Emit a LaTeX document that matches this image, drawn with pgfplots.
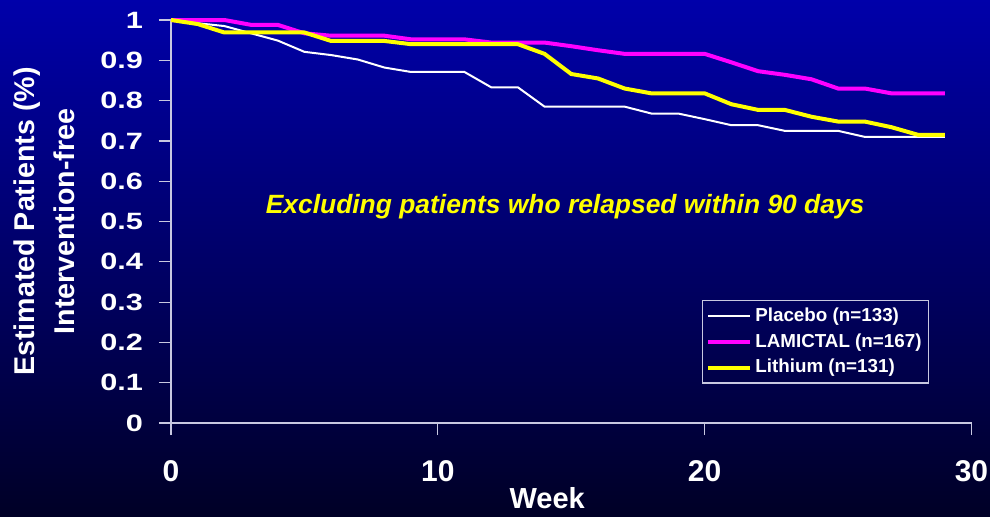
\documentclass[border=0pt]{standalone}
\usepackage{fontspec}
\setmainfont{Liberation Sans}
\newfontfamily\widefont[FakeStretch=1.3]{Liberation Sans}
\usepackage{pgfplots}
\pgfplotsset{compat=1.18}
\definecolor{bgtop}{RGB}{0,0,170}
\definecolor{bgbot}{RGB}{0,0,38}
\definecolor{axgray}{RGB}{200,200,225}
\definecolor{lmag}{RGB}{255,0,255}
\definecolor{lyel}{RGB}{255,255,0}

% Kaplan-Meier style estimates, read off weekly
\pgfplotstableread{
week placebo lamictal lithium
0  1.000 1.000 1.000
1  0.992 1.000 0.990
2  0.985 1.000 0.969
3  0.967 0.988 0.969
4  0.949 0.988 0.969
5  0.921 0.967 0.969
6  0.913 0.961 0.948
7  0.902 0.961 0.948
8  0.882 0.961 0.948
9  0.871 0.952 0.940
10 0.871 0.952 0.940
11 0.871 0.952 0.940
12 0.833 0.944 0.940
13 0.833 0.944 0.940
14 0.785 0.944 0.916
15 0.785 0.935 0.866
16 0.785 0.925 0.855
17 0.785 0.916 0.830
18 0.768 0.916 0.818
19 0.768 0.916 0.818
20 0.754 0.916 0.818
21 0.739 0.895 0.791
22 0.739 0.873 0.777
23 0.725 0.864 0.777
24 0.725 0.853 0.760
25 0.725 0.830 0.748
26 0.710 0.830 0.748
27 0.710 0.818 0.734
28 0.710 0.818 0.715
29 0.710 0.818 0.715
}\kmdata

\begin{document}
\begin{tikzpicture}
\shade[top color=bgtop, bottom color=bgbot] (-85.5pt,-46.5pt) rectangle (409.5pt,211.5pt);
\begin{axis}[
    scale only axis,
    width=400.25pt, height=201.5pt,
    xmin=0, xmax=30, ymin=0, ymax=1,
    clip=false,
    axis x line*=bottom, axis y line*=left,
    axis line style={draw=axgray, line width=0.6pt, -},
    xtick={0,10,20,30},
    ytick={0,0.1,0.2,0.3,0.4,0.5,0.6,0.7,0.8,0.9,1},
    tick align=outside,
    major tick length=6pt,
    tick style={draw=axgray, line width=0.6pt},
    /pgf/number format/assume math mode=true,
    xticklabel style={font=\bfseries\fontsize{15}{16}\selectfont, text=white, yshift=-9pt},
    yticklabel style={font=\widefont\bfseries\fontsize{11.8}{12}\selectfont, text=white, xshift=-4.5pt},
    xlabel={Week},
    xlabel style={font=\bfseries\fontsize{14.5}{16}\selectfont, text=white,
        at={(axis description cs:0.47,-0.213)}, anchor=base},
    ylabel={Estimated Patients (\%)\\Intervention-free},
    ylabel style={font=\bfseries\fontsize{14.3}{20}\selectfont, text=white, align=center,
        at={(axis description cs:-0.12,0.5)}, anchor=south, rotate=0, inner sep=0pt},
    legend style={at={(axis description cs:0.663,0.305)}, anchor=north west,
        draw=axgray, fill=none, line width=0.6pt,
        font=\bfseries\fontsize{9.4}{11}\selectfont, text=white,
        inner xsep=2pt, inner ysep=2pt, row sep=1.6pt,
        nodes={inner sep=1.5pt}},
    legend cell align=left,
    legend image code/.code={\draw[#1] (0pt,0pt) -- (21pt,0pt);},
]
\addplot[white, line width=1pt] table[x=week, y=placebo] {\kmdata};
\addlegendentry{Placebo (n=133)}
\addplot[lmag, line width=2pt] table[x=week, y=lamictal] {\kmdata};
\addlegendentry{LAMICTAL (n=167)}
\addplot[lyel, line width=2pt] table[x=week, y=lithium] {\kmdata};
\addlegendentry{Lithium (n=131)}
\node[font=\bfseries\itshape\fontsize{13.2}{14}\selectfont, text=lyel, anchor=base]
    at (axis cs:14.77,0.519) {Excluding patients who relapsed within 90 days};
\end{axis}
\pgfresetboundingbox
\path[use as bounding box] (-85.5pt,-46.5pt) rectangle (409.5pt,211.5pt);
\end{tikzpicture}
\end{document}
